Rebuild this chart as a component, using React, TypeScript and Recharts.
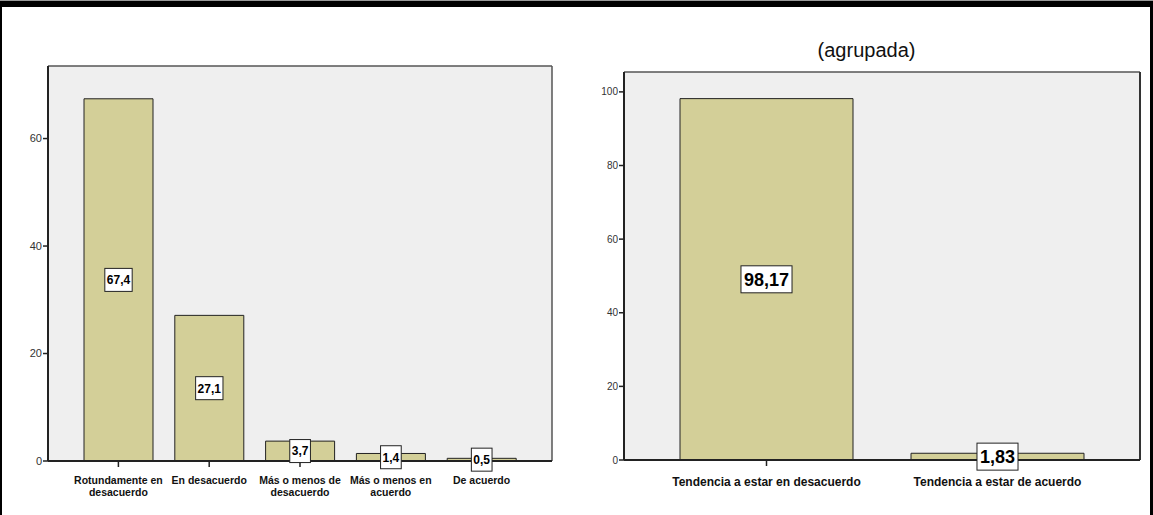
import React from "react";
import { BarChart, Bar, XAxis, YAxis, CartesianGrid, LabelList } from "recharts";

const LEFT_CATEGORIES = [
  "Rotundamente en\ndesacuerdo",
  "En desacuerdo",
  "Más o menos de\ndesacuerdo",
  "Más o menos en\nacuerdo",
  "De acuerdo",
];
const LEFT_VALUES = [67.4, 27.1, 3.7, 1.4, 0.5];
const LEFT_TICKS = [0, 20, 40, 60];

const RIGHT_TITLE = "(agrupada)";
const RIGHT_CATEGORIES = ["Tendencia a estar en desacuerdo", "Tendencia a estar de acuerdo"];
const RIGHT_VALUES = [98.17, 1.83];
const RIGHT_TICKS = [0, 20, 40, 60, 80, 100];

const leftData = LEFT_CATEGORIES.map((c, i) => ({ cat: c, value: LEFT_VALUES[i] }));
const rightData = RIGHT_CATEGORIES.map((c, i) => ({ cat: c, value: RIGHT_VALUES[i] }));

const FONT = "Arial, 'Liberation Sans', sans-serif";
const BAR_FILL = "#d3cf98";
const AXIS = "#222";
const FRAME = "#555";

const charW = (ch: string) => (ch === "," || ch === ".") ? 0.278 : 0.556;

const makeBoxLabel = (fontSize: number, decimals: number, padX: number, boxH: number) => (props: any) => {
  const { x, y, width, height, value } = props;
  const text = Number(value).toFixed(decimals).replace(".", ",");
  const tw = text.split("").reduce((s, c) => s + charW(c), 0) * fontSize;
  const w = tw + padX * 2;
  const cx = Number(x) + Number(width) / 2;
  const cy = Number(y) + Number(height) / 2;
  return (
    <g>
      <rect x={cx - w / 2} y={cy - boxH / 2} width={w} height={boxH} fill="#fff" stroke="#222" strokeWidth={1} />
      <text x={cx} y={cy} dy={fontSize * 0.36} textAnchor="middle" fontFamily={FONT} fontWeight="bold" fontSize={fontSize} fill="#000">
        {text}
      </text>
    </g>
  );
};

const makeXTick = (fontSize: number, lineH: number, dy: number) => (props: any) => {
  const { x, y, payload } = props;
  const lines = String(payload.value).split("\n");
  return (
    <g>
      {lines.map((l, i) => (
        <text key={i} x={x} y={y + dy + i * lineH} textAnchor="middle" fontFamily={FONT} fontWeight="bold" fontSize={fontSize} fill="#111">
          {l}
        </text>
      ))}
    </g>
  );
};

export default function App() {
  return (
    <div style={{ position: "absolute", left: 0, top: 0, width: 1153, height: 515, background: "#fff", overflow: "hidden" }}>
      <div style={{ position: "absolute", left: 0, top: 0, width: 1153, height: 1, background: "#999" }} />
      <div style={{ position: "absolute", left: 0, top: 1, width: 1153, height: 6, background: "#000" }} />
      <div style={{ position: "absolute", left: 0, top: 7, width: 2, height: 508, background: "#000" }} />
      <div style={{ position: "absolute", left: 1150, top: 7, width: 3, height: 508, background: "#000" }} />

      <div style={{ position: "absolute", left: 0, top: 0 }}>
        <BarChart width={560} height={515} data={leftData} margin={{ top: 65, right: 7, bottom: 14, left: 0 }} barSize={69}>
          <CartesianGrid horizontal={false} vertical={false} fill="#efefef" />
          <XAxis xAxisId="top" orientation="top" type="number" domain={[0, 1]} height={1} tick={false} tickLine={false} axisLine={{ stroke: FRAME, strokeWidth: 1.5 }} />
          <YAxis yAxisId="right" orientation="right" type="number" width={1} tick={false} tickLine={false} axisLine={{ stroke: FRAME, strokeWidth: 1.5 }} domain={[0, 1]} />
          <YAxis
            domain={[0, 73.5]}
            ticks={LEFT_TICKS}
            width={48}
            tickSize={5}
            tickMargin={1}
            axisLine={{ stroke: AXIS, strokeWidth: 2 }}
            tickLine={{ stroke: AXIS, strokeWidth: 1.5 }}
            tick={{ fontFamily: FONT, fontSize: 11, fill: "#333" }}
          />
          <XAxis
            dataKey="cat"
            height={40}
            padding={{ left: 25, right: 25 }}
            tickSize={6}
            tickMargin={0}
            interval={0}
            axisLine={{ stroke: AXIS, strokeWidth: 2 }}
            tickLine={{ stroke: AXIS, strokeWidth: 1.5 }}
            tick={makeXTick(10.5, 12, 17)}
          />
          <Bar dataKey="value" fill={BAR_FILL} stroke="#222" strokeWidth={1} isAnimationActive={false}>
            <LabelList dataKey="value" content={makeBoxLabel(12, 1, 2, 23)} />
          </Bar>
        </BarChart>
      </div>

      <div style={{ position: "absolute", left: 560, top: 0 }}>
        <div style={{ position: "absolute", left: 0, top: 39, width: 613, textAlign: "center", fontFamily: FONT, fontSize: 20, color: "#111" }}>
          {RIGHT_TITLE}
        </div>
        <BarChart width={593} height={515} data={rightData} margin={{ top: 71, right: 12, bottom: 15, left: 0 }} barSize={173}>
          <CartesianGrid horizontal={false} vertical={false} fill="#efefef" />
          <XAxis xAxisId="top" orientation="top" type="number" domain={[0, 1]} height={1} tick={false} tickLine={false} axisLine={{ stroke: FRAME, strokeWidth: 1.5 }} />
          <YAxis yAxisId="right" orientation="right" type="number" width={1} tick={false} tickLine={false} axisLine={{ stroke: "#333", strokeWidth: 2 }} domain={[0, 1]} />
          <YAxis
            domain={[0, 105.4]}
            ticks={RIGHT_TICKS}
            width={64}
            tickSize={5}
            tickMargin={1}
            axisLine={{ stroke: AXIS, strokeWidth: 2 }}
            tickLine={{ stroke: AXIS, strokeWidth: 1.5 }}
            tick={{ fontFamily: FONT, fontSize: 10, fill: "#333" }}
          />
          <XAxis
            dataKey="cat"
            height={40}
            padding={{ left: 27, right: 27 }}
            tickSize={6}
            tickMargin={0}
            interval={0}
            axisLine={{ stroke: AXIS, strokeWidth: 2 }}
            tickLine={{ stroke: AXIS, strokeWidth: 1.5 }}
            tick={makeXTick(12, 14, 20)}
          />
          <Bar dataKey="value" fill={BAR_FILL} stroke="#222" strokeWidth={1} isAnimationActive={false}>
            <LabelList dataKey="value" content={makeBoxLabel(18, 2, 3, 27)} />
          </Bar>
        </BarChart>
      </div>
    </div>
  );
}
